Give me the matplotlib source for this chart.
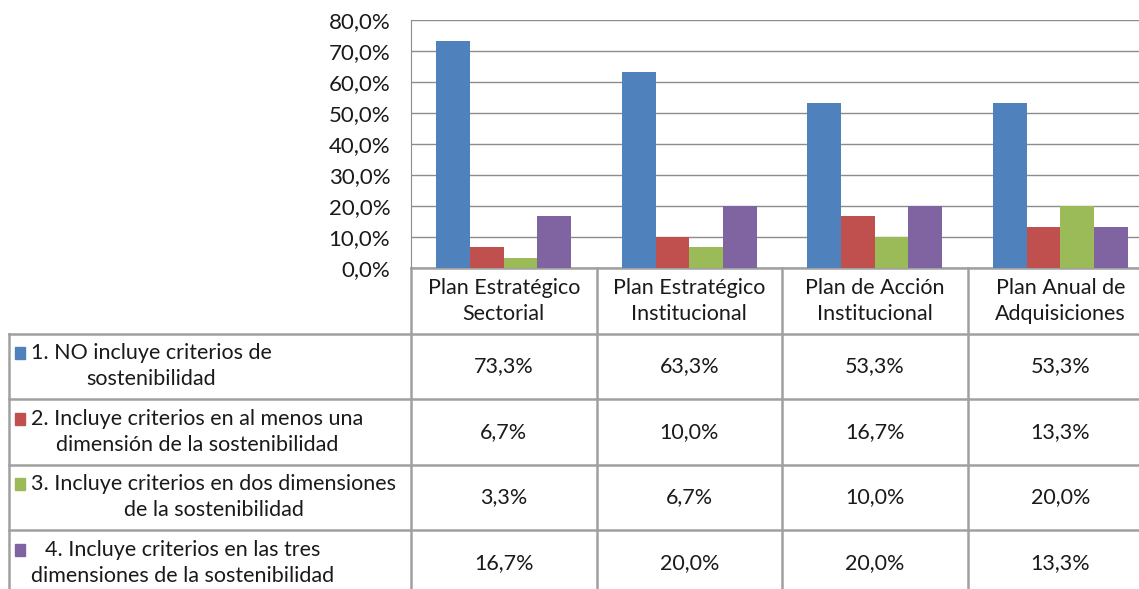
import numpy as np
import matplotlib
matplotlib.use("Agg")
import matplotlib.pyplot as plt
from matplotlib.patches import Rectangle
from matplotlib.ticker import FuncFormatter

# categories and series (percent)
categories = ["Plan Estratégico\nSectorial", "Plan Estratégico\nInstitucional",
              "Plan de Acción\nInstitucional", "Plan Anual de\nAdquisiciones"]
series_names = ["1. NO incluye criterios de\nsostenibilidad",
                "2. Incluye criterios en al menos una\ndimensión de la sostenibilidad",
                "3. Incluye criterios en dos dimensiones\nde la sostenibilidad",
                "4. Incluye criterios en las tres\ndimensiones de la sostenibilidad"]
no_incluye = [73.3, 63.3, 53.3, 53.3]
una_dimension = [6.7, 10.0, 16.7, 13.3]
dos_dimensiones = [3.3, 6.7, 10.0, 20.0]
tres_dimensiones = [16.7, 20.0, 20.0, 13.3]
colors = ["#4F81BD", "#C0504D", "#9BBB59", "#8064A2"]

series = [no_incluye, una_dimension, dos_dimensiones, tres_dimensiones]

plt.rcParams['font.family'] = ['Lato', 'DejaVu Sans']
TXT = "#1a1a1a"
W, H = 1139, 589
fig = plt.figure(figsize=(W / 100, H / 100), dpi=100)

# layout in pixels
x_left, x_right = 411, 1153      # plot / data columns (right side runs off the image)
y_top, y_zero = 20, 268
row_h = 65.5
tbl_left = 9
col_w = (x_right - x_left) / len(categories)

def pct(v, pos=None):
    return "{:.1f}%".format(v).replace(".", ",")

# overlay axes in pixel coordinates for the data table
tab = fig.add_axes([0, 0, 1, 1])
tab.set_xlim(0, W)
tab.set_ylim(H, 0)
tab.axis("off")

ax = fig.add_axes([x_left / W, 1 - y_zero / H, (x_right - x_left) / W, (y_zero - y_top) / H])
ax.patch.set_alpha(0)
n = len(series)
bw = 1 / (n + 1.5)
x = np.arange(len(categories))
for i, vals in enumerate(series):
    ax.bar(x + (i - (n - 1) / 2) * bw, vals, bw, color=colors[i], zorder=3)
ax.set_xlim(-0.5, len(categories) - 0.5)
ax.set_ylim(0, 80)
ax.set_yticks(np.arange(0, 81, 10))
ax.yaxis.set_major_formatter(FuncFormatter(pct))
ax.set_xticks([])
ax.tick_params(axis="y", length=0, pad=15, labelsize=16, labelcolor=TXT)
ax.grid(axis="y", color="#8C8C8C", lw=1, zorder=0)
for s in ["top", "right"]:
    ax.spines[s].set_visible(False)
ax.spines["left"].set_color("#8C8C8C")
ax.spines["bottom"].set_visible(False)

# table grid
lc, lw = "#A0A0A0", 1.8
n_rows = len(series)
y_rows = [y_zero + row_h * (k + 1) for k in range(n_rows + 1)]
tab.plot([x_left, x_right], [y_zero, y_zero], color=lc, lw=lw)
for yy in y_rows:
    tab.plot([tbl_left, x_right], [yy, yy], color=lc, lw=lw)
tab.plot([tbl_left, tbl_left], [y_rows[0], y_rows[-1]], color=lc, lw=lw)
for k in range(len(categories) + 1):
    xx = x_left + k * col_w
    tab.plot([xx, xx], [y_zero, y_rows[-1]], color=lc, lw=lw)

fs = 15.5
for j, cat in enumerate(categories):
    cx = x_left + (j + 0.5) * col_w
    tab.text(cx, y_zero + row_h / 2, cat, ha="center", va="center", fontsize=fs,
             color=TXT, linespacing=1.38)
    for i, vals in enumerate(series):
        cy = y_zero + row_h * (i + 1.5)
        tab.text(cx, cy, pct(vals[j]), ha="center", va="center", fontsize=fs, color=TXT)

for i, name in enumerate(series_names):
    cy = y_zero + row_h * (i + 1.5)
    tab.add_patch(Rectangle((15, cy - 19), 10, 12, color=colors[i]))
    tab.text(31, cy, name, ha="left", va="center", multialignment="center",
             fontsize=fs, color=TXT, linespacing=1.38)

fig.savefig("out.png", dpi=100)
